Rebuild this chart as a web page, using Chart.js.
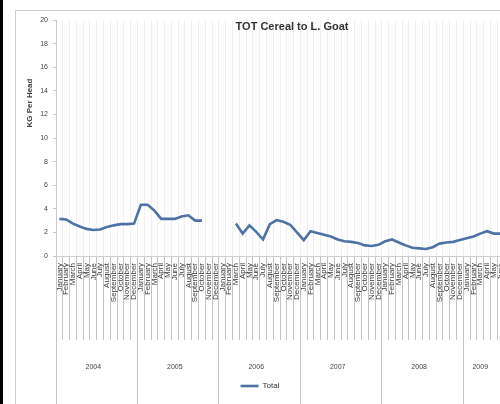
<!DOCTYPE html>
<html>
<head>
<meta charset="utf-8">
<script src="https://cdn.jsdelivr.net/npm/chart.js@4.4.1/dist/chart.umd.min.js"></script>
<style>
  html, body { margin: 0; padding: 0; background: #ffffff; overflow: hidden; width: 500px; height: 404px; }
  #blackbar { position: absolute; left: 0; top: 0; width: 3px; height: 404px; background: #000; }
  #frame { position: absolute; left: 15px; top: 10px; width: 600px; height: 500px; border: 1px solid #cfcfcf; box-sizing: border-box; }
  #wrap { position: absolute; left: 16px; top: 11px; width: 488px; height: 393px; }
</style>
</head>
<body>
<div id="blackbar"></div>
<div id="frame"></div>
<div id="wrap"><canvas id="c"></canvas></div>
<script>
const chartTitle = 'TOT Cereal to L. Goat';
const yAxisTitle = 'KG Per Head';
const seriesName = 'Total';
const years = ['2004', '2005', '2006', '2007', '2008', '2009'];
const monthNames = ['January', 'February', 'March', 'April', 'May', 'June',
  'July', 'August', 'September', 'October', 'November', 'December'];
const yTicks = [0, 2, 4, 6, 8, 10, 12, 14, 16, 18, 20];

const total2004 = [3.15, 3.1, 2.75, 2.5, 2.3, 2.2, 2.25, 2.45, 2.6, 2.7, 2.7, 2.75];
const total2005 = [4.35, 4.35, 3.85, 3.15, 3.15, 3.15, 3.35, 3.45, 3.0, 3.0, null, null];
const total2006 = [null, null, 2.75, 1.9, 2.6, 2.05, 1.4, 2.7, 3.05, 2.9, 2.65, 2.0];
const total2007 = [1.35, 2.1, 1.95, 1.8, 1.65, 1.4, 1.25, 1.2, 1.1, 0.9, 0.85, 0.95];
const total2008 = [1.25, 1.4, 1.15, 0.9, 0.7, 0.65, 0.6, 0.75, 1.05, 1.15, 1.2, 1.35];
const total2009 = [1.5, 1.65, 1.9, 2.1, 1.9, 1.9];

const totalsByYear = [total2004, total2005, total2006, total2007, total2008, total2009];

// build category table
const labels = [];
const yearOfIndex = [];
const posInYear = [];
const monthsInYear = [];
const values = [];
totalsByYear.forEach((arr, yi) => {
  arr.forEach((v, mi) => {
    labels.push(monthNames[mi]);
    yearOfIndex.push(yi);
    posInYear.push(mi);
    values.push(v);
  });
  monthsInYear.push(arr.length);
});

const FONT = "'Liberation Sans Narrow', 'Liberation Sans', 'DejaVu Sans Condensed', sans-serif";
Chart.defaults.font.family = FONT;
Chart.defaults.color = '#444';

const lineColor = '#4f72a6';

const overlayText = {
  id: 'overlayText',
  afterDraw(chart) {
    const ctx = chart.ctx;
    ctx.save();
    ctx.fillStyle = '#333';
    ctx.textAlign = 'center';
    ctx.textBaseline = 'middle';
    ctx.font = 'bold 11px ' + FONT;
    ctx.fillText(chartTitle, 276, 16);
    ctx.translate(14, 92);
    ctx.rotate(-Math.PI / 2);
    ctx.font = 'bold 8px ' + FONT;
    ctx.fillStyle = '#444';
    ctx.fillText(yAxisTitle, 0, 0);
    ctx.restore();
  }
};

new Chart(document.getElementById('c'), {
  type: 'line',
  data: {
    labels: labels,
    datasets: [{
      label: seriesName,
      data: values,
      borderColor: lineColor,
      backgroundColor: lineColor,
      borderWidth: 2.6,
      pointRadius: 0,
      pointHoverRadius: 0,
      tension: 0,
      spanGaps: false,
      fill: false
    }]
  },
  options: {
    responsive: true,
    maintainAspectRatio: false,
    animation: false,
    devicePixelRatio: 1,
    layout: { padding: { top: 6, left: 0, right: 0, bottom: 4 } },
    plugins: {
      title: { display: false },
      tooltip: { enabled: false },
      legend: {
        display: true,
        position: 'bottom',
        labels: {
          usePointStyle: true,
          pointStyle: 'line',
          pointStyleWidth: 18,
          boxHeight: 8,
          padding: 4,
          color: '#333',
          font: { size: 8, family: FONT }
        }
      }
    },
    scales: {
      y: {
        min: 0,
        max: 20,
        afterBuildTicks: (axis) => { axis.ticks = yTicks.map(v => ({ value: v })); },
        afterFit: (axis) => { axis.width = 40; },
        grid: { display: true, drawOnChartArea: false, drawTicks: true, tickLength: 3, tickColor: '#c8c8c8' },
        border: { display: true, color: '#c8c8c8' },
        ticks: { padding: 5, font: { size: 7 }, color: '#444' }
      },
      x: {
        type: 'category',
        offset: true,
        weight: 0,
        afterFit: (axis) => { axis.height = 84; },
        grid: {
          display: true,
          offset: true,
          drawOnChartArea: true,
          color: '#f0f0f0',
          tickColor: '#c4c4c4',
          tickLength: 84
        },
        border: { display: true, color: '#cfcfcf' },
        ticks: {
          autoSkip: false,
          minRotation: 90,
          maxRotation: 90,
          padding: -77,
          font: { size: 8 },
          color: '#3a3a3a'
        }
      },
      x2: {
        type: 'category',
        position: 'bottom',
        offset: true,
        weight: 1,
        afterFit: (axis) => { axis.height = 38; },
        grid: {
          display: true,
          offset: true,
          drawOnChartArea: false,
          tickLength: 64,
          tickColor: (ctx) => (ctx.index !== undefined && posInYear[ctx.index] === 0) ? '#c4c4c4' : 'rgba(0,0,0,0)'
        },
        border: { display: false },
        ticks: {
          autoSkip: false,
          maxRotation: 0,
          minRotation: 0,
          padding: -41,
          font: { size: 7 },
          color: '#444',
          callback: function (value, index) {
            const yi = yearOfIndex[index];
            const mid = Math.floor((monthsInYear[yi] - 1) / 2);
            return posInYear[index] === mid ? years[yi] : '';
          }
        }
      }
    }
  },
  plugins: [overlayText]
});
</script>
</body>
</html>
